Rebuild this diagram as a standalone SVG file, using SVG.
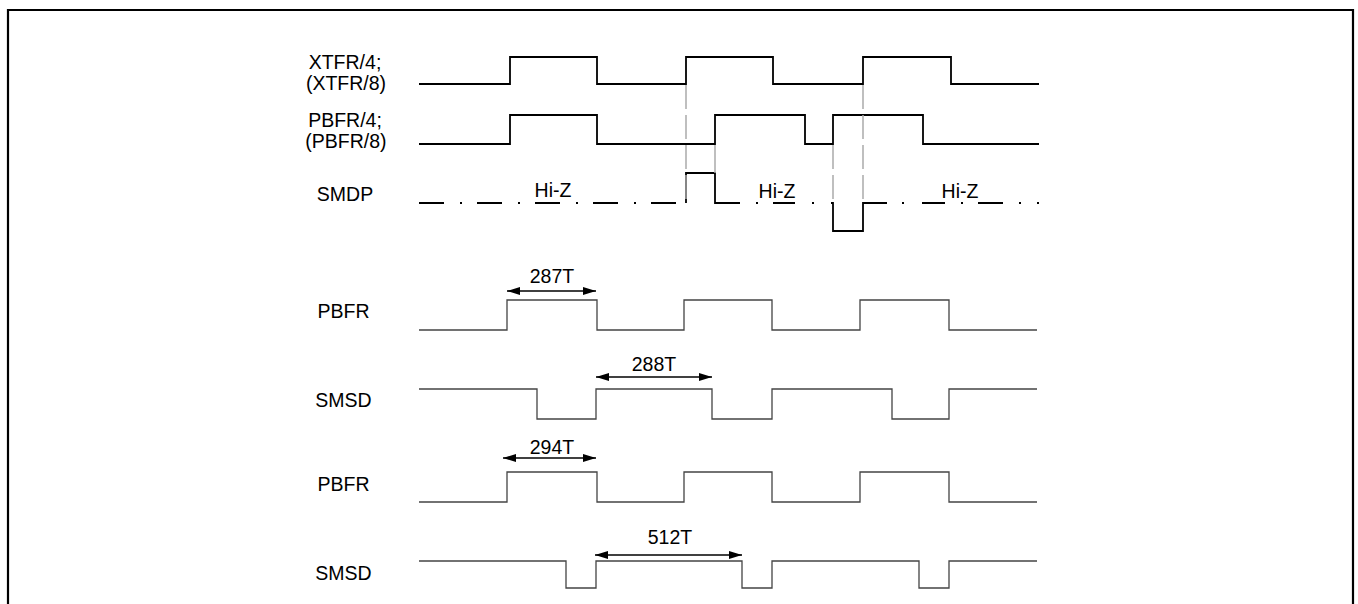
<svg xmlns="http://www.w3.org/2000/svg" width="1358" height="604" viewBox="0 0 1358 604">
<style>
text{font-family:"Liberation Sans",Arial,sans-serif;font-size:19.5px;fill:#000}
.lbl{text-anchor:middle}
.w1{fill:none;stroke:#000;stroke-width:1.8}
.w2{fill:none;stroke:#444;stroke-width:1.3}
.g{fill:none;stroke:#aaa;stroke-width:1.5;stroke-dasharray:24 6}
.gs{fill:none;stroke:#aaa;stroke-width:1.5}
.dim{fill:none;stroke:#000;stroke-width:1.3;marker-start:url(#ah);marker-end:url(#ah)}
</style>
<defs>
<marker id="ah" viewBox="0 0 13 8" refX="13" refY="4" markerWidth="13" markerHeight="8" markerUnits="userSpaceOnUse" orient="auto-start-reverse">
<path d="M0,0 L13,4 L0,8 Z" fill="#000"/>
</marker>
</defs>
<rect x="0" y="0" width="1358" height="604" fill="#fff"/>
<path d="M8,620 V10 H1353 V620" fill="none" stroke="#000" stroke-width="2.2"/>

<g id="xtfr">
<text class="lbl" x="345" y="69">XTFR/4;</text>
<text class="lbl" x="346" y="90">(XTFR/8)</text>
<path class="w1" d="M419,84 H510 V57 H597 V84 H686 V57 H773 V84 H863 V57 H951 V84 H1039"/>
</g>

<g id="pbfr4">
<text class="lbl" x="345" y="127">PBFR/4;</text>
<text class="lbl" x="346" y="148">(PBFR/8)</text>
<path class="w1" d="M419,144 H510 V115 H597 V144 H715 V115 H805 V144 H833 V115 H923 V144 H1039"/>
</g>

<g id="smdp">
<text class="lbl" x="345" y="201">SMDP</text>
<path class="w1" d="M419,203 H444 M460,203 H462 M477,203 H502 M518,203 H520 M535,203 H560 M576,203 H578 M593,203 H618 M634,203 H636 M651,203 H676"/>
<path class="w1" d="M686,203 V173 H715 V203 H740 M756,203 H758 M773,203 H795 M812,203 H814 M831,203 H833 V231 H863 V203 H887 M902,203 H904 M922,203 H945 M961,203 H963 M978,203 H1003 M1019,203 H1021 M1037,203 H1039"/>
<text class="lbl" x="553" y="197">Hi-Z</text>
<text class="lbl" x="777" y="198">Hi-Z</text>
<text class="lbl" x="960" y="198">Hi-Z</text>
</g>

<g id="guides">
<path class="g" d="M686,85 V203"/>
<path class="gs" d="M715,145 V173"/>
<path class="g" d="M833,145 V203"/>
<path class="g" d="M863,85 V203"/>
</g>

<g id="pbfr-a">
<text class="lbl" x="343.5" y="318">PBFR</text>
<path class="w2" d="M419,330 H507 V300 H597 V330 H684 V300 H772 V330 H860 V300 H949 V330 H1037"/>
</g>

<g id="smsd-a">
<text class="lbl" x="343.5" y="407">SMSD</text>
<path class="w2" d="M419,389 H537 V419 H596 V389 H712 V419 H772 V389 H892 V419 H949 V389 H1037"/>
</g>

<g id="pbfr-b">
<text class="lbl" x="343.5" y="491">PBFR</text>
<path class="w2" d="M419,502 H507 V472 H597 V502 H684 V472 H772 V502 H860 V472 H949 V502 H1037"/>
</g>

<g id="smsd-b">
<text class="lbl" x="343.5" y="580">SMSD</text>
<path class="w2" d="M419,561 H566 V588 H596 V561 H742 V588 H772 V561 H919 V588 H949 V561 H1037"/>
</g>

<g id="connectors">
<path class="dim" d="M507,291 H596"/>
<text class="lbl" x="552" y="283">287T</text>
<path class="dim" d="M596,377 H712"/>
<text class="lbl" x="654" y="371">288T</text>
<path class="dim" d="M503,458 H596"/>
<text class="lbl" x="552" y="454">294T</text>
<path class="dim" d="M595,555 H742"/>
<text class="lbl" x="670" y="544">512T</text>
</g>
</svg>
